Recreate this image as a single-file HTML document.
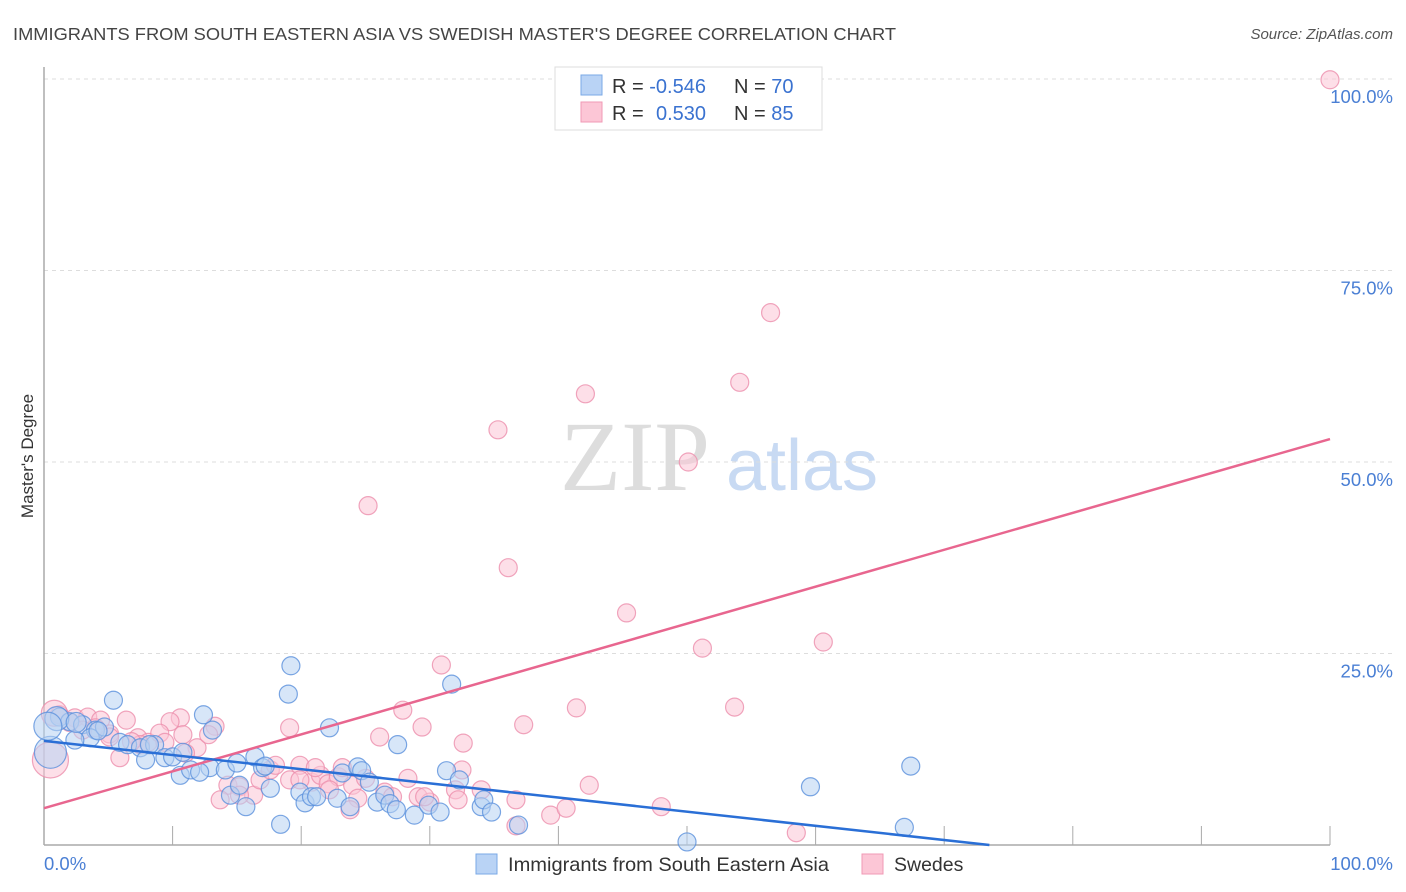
<!DOCTYPE html>
<html><head><meta charset="utf-8"><style>
body{margin:0;background:#fff;font-family:"Liberation Sans",sans-serif;}
svg{display:block}
</style></head><body>
<svg id="chart" width="1406" height="892" xmlns="http://www.w3.org/2000/svg">
<text x="13" y="40" font-size="17.5" fill="#444" textLength="883" lengthAdjust="spacingAndGlyphs">IMMIGRANTS FROM SOUTH EASTERN ASIA VS SWEDISH MASTER'S DEGREE CORRELATION CHART</text>
<text x="1393" y="39" font-size="15" fill="#555" font-style="italic" text-anchor="end">Source: ZipAtlas.com</text>
<text x="33" y="456" font-size="17" fill="#333" text-anchor="middle" transform="rotate(-90 33 456)">Master's Degree</text>
<g>
<text x="635" y="490" font-size="100" font-family="Liberation Serif,serif" fill="#ddd" text-anchor="middle">ZIP</text>
<text x="802" y="490" font-size="72" fill="#c8daf3" text-anchor="middle">atlas</text>
</g>
<g id="grid"></g>
<g id="marks"></g>
<g>
<rect x="555" y="67" width="267" height="63" fill="#fff" stroke="#ddd"/>
<rect x="581" y="75" width="21" height="20" fill="#b9d3f5" stroke="#7aa8e6"/>
<rect x="581" y="102" width="21" height="20" fill="#fcc6d6" stroke="#f09ab5"/>
<text x="612" y="93" font-size="20" fill="#333">R = <tspan fill="#3a72d0">-0.546</tspan><tspan x="734">N = </tspan><tspan fill="#3a72d0">70</tspan></text>
<text x="612" y="120" font-size="20" fill="#333">R = <tspan x="656" fill="#3a72d0">0.530</tspan><tspan x="734">N = </tspan><tspan fill="#3a72d0">85</tspan></text>
</g>
<g>
<rect x="476" y="854" width="21" height="20" fill="#b9d3f5" stroke="#7aa8e6"/>
<text x="508" y="871" font-size="19.5" fill="#333" textLength="321" lengthAdjust="spacingAndGlyphs">Immigrants from South Eastern Asia</text>
<rect x="862" y="854" width="21" height="20" fill="#fcc6d6" stroke="#f09ab5"/>
<text x="894" y="871" font-size="19.5" fill="#333">Swedes</text>
</g>
</svg>
<script>
const yTicks=[25,50,75,100];
const yTickLabels=["25.0%","50.0%","75.0%","100.0%"];
const xTickLabels=["0.0%","100.0%"];
const blueX=[1.2,2.0,3.0,4.0,3.6,4.7,5.4,5.9,6.5,7.5,7.9,8.6,9.4,10.0,10.6,10.8,11.4,12.4,13.1,12.9,14.1,14.5,15.0,15.2,15.7,16.4,17.0,17.6,18.4,19.0,19.2,19.9,20.3,20.8,21.2,22.2,22.8,23.2,23.8,24.4,24.7,25.3,25.9,26.5,26.9,27.5,27.4,28.8,29.9,30.8,31.3,31.7,32.3,34.0,34.2,34.8,36.9,50.0,59.6,66.9,67.4,2.4,4.2,8.2,12.1,17.2,0.5,1.0,2.5,0.3];
const blueY=[16.7,16.1,15.7,15.0,14.0,15.4,18.9,13.4,13.1,12.7,11.1,13.1,11.4,11.5,9.1,12.1,9.8,17.0,15.0,10.1,9.8,6.5,10.7,7.8,5.0,11.5,10.1,7.4,2.7,19.7,23.4,6.9,5.5,6.3,6.3,15.3,6.1,9.4,5.0,10.2,9.7,8.2,5.6,6.5,5.4,13.1,4.6,3.9,5.2,4.3,9.7,21.0,8.5,5.0,5.9,4.3,2.6,0.4,7.6,2.3,10.3,13.7,14.9,13.1,9.5,10.3,12.1,16.5,16.0,15.5];
const blueR=[9,9,9,9,9,9,9,9,9,9,9,9,9,9,9,9,9,9,9,9,9,9,9,9,9,9,9,9,9,9,9,9,9,9,9,9,9,9,9,9,9,9,9,9,9,9,9,9,9,9,9,9,9,9,9,9,9,9,9,9,9,9,9,9,9,9,16,12,10,14];
const pinkX=[100,56.5,54.1,42.1,35.3,50.1,25.2,36.1,45.3,51.2,60.6,30.9,27.9,41.4,53.7,37.3,29.4,32.6,26.1,19.1,6.4,10.6,13.3,9.8,1.2,2.4,3.4,4.4,5.1,5.9,7.3,8.1,9.0,9.4,10.8,11.9,12.8,14.3,15.2,16.3,16.8,17.6,18.0,19.1,19.9,20.8,21.5,22.1,22.9,23.2,24.0,24.4,25.0,26.5,27.1,28.3,29.1,30.0,32.0,32.5,34.0,36.7,36.7,39.4,40.6,42.4,48.0,58.5,15.2,4.0,7.5,22.2,21.1,5.1,19.9,32.2,23.8,29.6,13.7,0.5,0.8,2.0,3.0,11.0,6.8];
const pinkY=[99.9,69.5,60.4,58.9,54.2,50.0,44.3,36.2,30.3,25.7,26.5,23.5,17.6,17.9,18.0,15.7,15.4,13.3,14.1,15.3,16.3,16.6,15.5,16.1,17.0,16.6,16.7,16.3,14.5,11.4,14.0,13.4,14.6,13.4,14.4,12.7,14.4,7.8,7.6,6.5,8.5,9.8,10.4,8.5,10.4,8.2,9.1,8.0,8.9,10.1,7.8,6.1,8.7,6.9,6.3,8.7,6.3,5.6,7.2,9.8,7.2,5.9,2.5,3.9,4.8,7.8,5.0,1.6,6.5,15.3,13.1,7.2,10.1,14.1,8.5,5.9,4.6,6.3,5.9,11.1,17.2,16.0,15.0,12.0,13.5];
const pinkR=[9,9,9,9,9,9,9,9,9,9,9,9,9,9,9,9,9,9,9,9,9,9,9,9,9,9,9,9,9,9,9,9,9,9,9,9,9,9,9,9,9,9,9,9,9,9,9,9,9,9,9,9,9,9,9,9,9,9,9,9,9,9,9,9,9,9,9,9,9,9,9,9,9,9,9,9,9,9,9,18,13,9,9,9,9];
const blueLine=[13.6,-0.185];
const pinkLine=[4.8,0.482];
const X0=44,X1=1330,Y0=845,Y100=79;
const sx=v=>X0+(X1-X0)*v/100;
const sy=v=>Y0-(Y0-Y100)*v/100;
const NS="http://www.w3.org/2000/svg";
function mk(tag,attrs,parent){const e=document.createElementNS(NS,tag);for(const k in attrs)e.setAttribute(k,attrs[k]);parent.appendChild(e);return e;}
const grid=document.getElementById('grid'),marks=document.getElementById('marks');
yTicks.forEach((t,i)=>{
  const l=mk('line',{x1:X0,x2:1393,y1:sy(t),y2:sy(t),stroke:'#ddd','stroke-dasharray':'4,4'},grid);
  
  
  const tx=mk('text',{x:1393,y:sy(t)+24,'font-size':18.5,fill:'#4a7fd4','text-anchor':'end'},grid);
  tx.textContent=yTickLabels[i];
  
  
});
const ay=mk('line',{x1:X0,x2:X0,y1:67,y2:Y0,stroke:'#aaa','stroke-width':1.5},grid);


const ax=mk('line',{x1:X0,x2:X1,y1:Y0,y2:Y0,stroke:'#aaa','stroke-width':1.5},grid);


for(let v=10;v<=100;v+=10){
  const t=mk('line',{x1:sx(v),x2:sx(v),y1:Y0-19,y2:Y0,stroke:'#aaa'},grid);
  
  
}
const xl0=mk('text',{x:44,y:870,'font-size':18.5,fill:'#4a7fd4'},grid);xl0.textContent=xTickLabels[0];


const xl1=mk('text',{x:1393,y:870,'font-size':18.5,fill:'#4a7fd4','text-anchor':'end'},grid);xl1.textContent=xTickLabels[1];


function pts(xs,ys,rs,fill,stroke,name){
  xs.forEach((x,i)=>{
    const c=mk('circle',{cx:sx(x),cy:sy(ys[i]),r:rs[i],fill:fill,'fill-opacity':0.55,stroke:stroke,'stroke-opacity':0.8,'stroke-width':1.2},marks);
    
    
  });
}
pts(pinkX,pinkY,pinkR,'#fbc5d5','#ec8fac','swedes-point');
pts(blueX,blueY,blueR,'#b7d1f3','#5a90dc','immigrants-point');
function reg(p,xEnd,color,name){
  let xe=xEnd; const y=p[0]+p[1]*xe;
  if(y<0) xe=-p[0]/p[1];
  const l=mk('line',{x1:sx(0),y1:sy(p[0]),x2:sx(xe),y2:sy(p[0]+p[1]*xe),stroke:color,'stroke-width':2.5},marks);
  
  
}
reg(pinkLine,100,'#e8668f','swedes-trendline');
reg(blueLine,100,'#2a6fd6','immigrants-trendline');
</script>
</body></html>
